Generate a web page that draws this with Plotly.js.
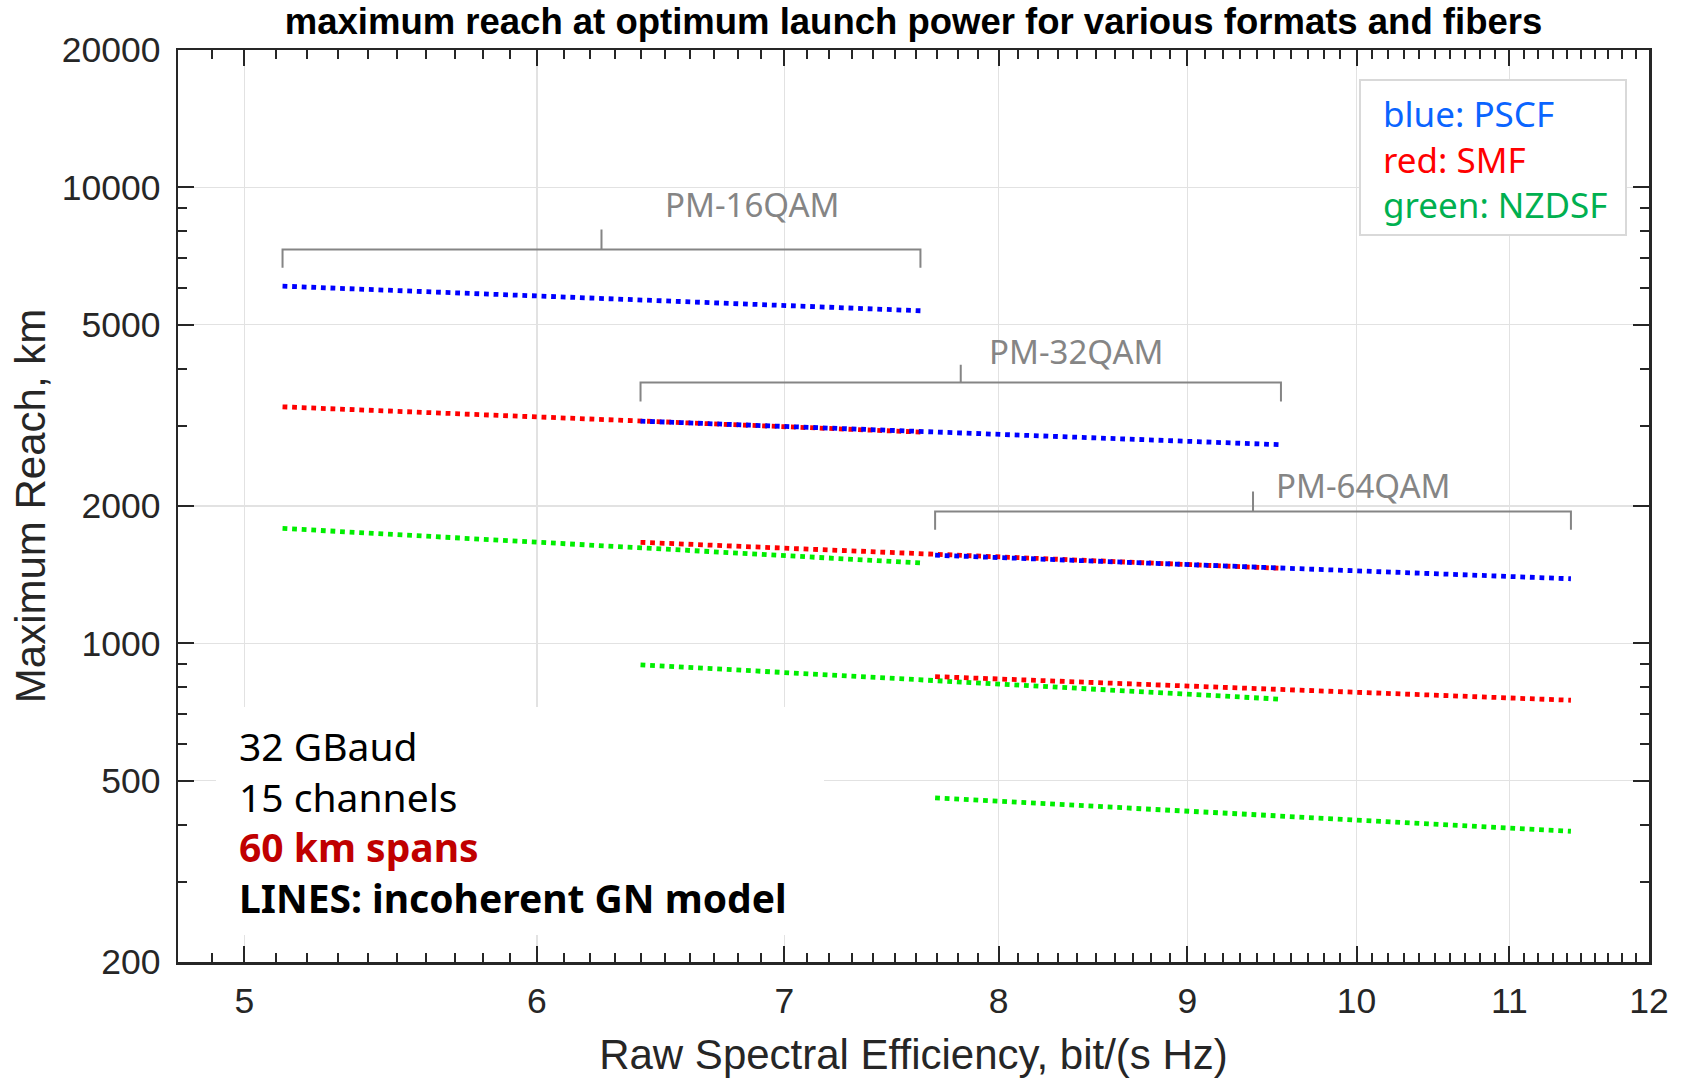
<!DOCTYPE html>
<html>
<head>
<meta charset="utf-8">
<script src="https://cdn.plot.ly/plotly-3.0.1.min.js"></script>
<style>
  html, body { margin: 0; padding: 0; background: #ffffff; }
  #chart { width: 1682px; height: 1078px; }
</style>
</head>
<body>
<div id="chart"></div>
<script>
// ---------------- data ----------------
const formats = ['PM-16QAM', 'PM-32QAM', 'PM-64QAM'];
const fibers = ['PSCF', 'SMF', 'NZDSF'];

// raw spectral efficiency (bit/(s Hz)) : start / end of each format's sweep
const se16 = [5.12, 7.62];
const se32 = [6.40, 9.54];
const se64 = [7.69, 11.43];

// maximum reach (km)
const pscf16 = [6070, 5360];
const smf16 = [3300, 2905];
const nzdsf16 = [1786, 1500];

const pscf32 = [3070, 2725];
const smf32 = [1665, 1460];
const nzdsf32 = [897, 754];

const pscf64 = [1560, 1385];
const smf64 = [845, 750];
const nzdsf64 = [458, 387];

// brace levels (km) for each format group
const braceTop = [7300, 3730, 1944];
const braceHook = [6660, 3390, 1775];
const bracePeak = [8080, 4083, 2151];

// tick labels
const xTickVals = [5, 6, 7, 8, 9, 10, 11, 12];
const xTickText = ['5', '6', '7', '8', '9', '10', '11', '12'];
const yTickVals = [200, 500, 1000, 2000, 5000, 10000, 20000];
const yTickText = ['200', '500', '1000', '2000', '5000', '10000', '20000'];

// ---------------- styles ----------------
const fiberColors = { PSCF: '#0000ff', SMF: '#ff0000', NZDSF: '#00ee00' };
const axisColor = '#262626';
const gridColor = '#e2e2e2';
const braceColor = '#858585';

const seByFormat = [se16, se32, se64];
const reachByFormat = [
  { PSCF: pscf16, SMF: smf16, NZDSF: nzdsf16 },
  { PSCF: pscf32, SMF: smf32, NZDSF: nzdsf32 },
  { PSCF: pscf64, SMF: smf64, NZDSF: nzdsf64 }
];

const traces = [];

// braces
formats.forEach((f, i) => {
  const s = seByFormat[i][0], e = seByFormat[i][1];
  const m = Math.sqrt(s * e);
  traces.push({
    type: 'scatter', mode: 'lines', name: f + ' brace',
    x: [s, s, m, m, m, e, e],
    y: [braceHook[i], braceTop[i], braceTop[i], bracePeak[i], braceTop[i], braceTop[i], braceHook[i]],
    line: { color: braceColor, width: 2 },
    hoverinfo: 'skip', showlegend: false
  });
});

// reach lines
formats.forEach((f, i) => {
  fibers.forEach(fb => {
    traces.push({
      type: 'scatter', mode: 'lines', name: f + ' ' + fb,
      x: seByFormat[i],
      y: reachByFormat[i][fb],
      line: { color: fiberColors[fb], width: 4.8, dash: 'dot' },
      showlegend: false
    });
  });
});

// minor tick positions
const xMinor = [];
for (let k = 48; k <= 120; k++) { if (k % 10 !== 0) xMinor.push(k / 10); }
const yMinor = [];
[100, 1000, 10000].forEach(dec => {
  for (let k = 2; k <= 9; k++) {
    const v = k * dec;
    if (v >= 200 && v <= 20000 && yTickVals.indexOf(v) < 0) yMinor.push(v);
  }
});

const W = 1682, H = 1078;
const L = 178, R = 33, T = 50, B = 116;
const pw = W - L - R, ph = H - T - B;
const px = v => (v - L) / pw;
const py = v => 1 - (v - T) / ph;

const tickFont = { family: 'Liberation Sans, Arial, sans-serif', size: 35.5, color: axisColor };
const annFont = 'Noto Sans, Open Sans, sans-serif';

const layout = {
  width: W, height: H,
  margin: { l: L, r: R, t: T, b: B },
  paper_bgcolor: '#ffffff',
  plot_bgcolor: '#ffffff',
  showlegend: false,
  title: {
    text: '<b>maximum reach at optimum launch power for various formats and fibers</b>',
    font: { family: 'Liberation Sans, Arial, sans-serif', size: 36.5, color: '#000000' },
    x: 0.5, xref: 'paper', xanchor: 'center',
    y: 1 - 21 / H, yref: 'container', yanchor: 'middle'
  },
  xaxis: {
    type: 'log',
    range: [Math.log10(4.797), Math.log10(12)],
    tickmode: 'array', tickvals: xTickVals, ticktext: xTickText,
    ticks: 'inside', ticklen: 16, tickwidth: 2, tickcolor: axisColor,
    showline: true, linecolor: axisColor, linewidth: 2.5, mirror: 'allticks',
    showgrid: true, gridcolor: gridColor, gridwidth: 1.5,
    zeroline: false,
    tickfont: tickFont,
    ticklabelstandoff: 6,
    minor: { tickmode: 'array', tickvals: xMinor, ticks: 'inside', ticklen: 9, tickwidth: 2, tickcolor: axisColor, showgrid: false },
    title: { text: 'Raw Spectral Efficiency, bit/(s Hz)', font: { family: 'Liberation Sans, Arial, sans-serif', size: 42, color: axisColor }, standoff: 22 }
  },
  yaxis: {
    type: 'log',
    range: [Math.log10(200), Math.log10(20000)],
    tickmode: 'array', tickvals: yTickVals, ticktext: yTickText,
    ticks: 'inside', ticklen: 16, tickwidth: 2, tickcolor: axisColor,
    showline: true, linecolor: axisColor, linewidth: 2.5, mirror: 'allticks',
    showgrid: true, gridcolor: gridColor, gridwidth: 1.5,
    zeroline: false,
    tickfont: tickFont,
    ticklabelstandoff: 8,
    minor: { tickmode: 'array', tickvals: yMinor, ticks: 'inside', ticklen: 9, tickwidth: 2, tickcolor: axisColor, showgrid: false },
    title: { text: 'Maximum Reach, km', font: { family: 'Liberation Sans, Arial, sans-serif', size: 42, color: axisColor }, standoff: 3 }
  },
  shapes: [
    {
      type: 'rect', xref: 'paper', yref: 'paper', layer: 'above',
      x0: px(216), x1: px(824), y0: py(935), y1: py(707),
      fillcolor: '#ffffff', line: { width: 0 }
    },
    {
      type: 'rect', xref: 'paper', yref: 'paper', layer: 'above',
      x0: px(1360), x1: px(1626), y0: py(235), y1: py(80),
      fillcolor: '#ffffff', line: { color: '#d9d9d9', width: 2 }
    }
  ],
  annotations: [
    {
      xref: 'paper', yref: 'paper', x: px(1381), y: py(159), xanchor: 'left', yanchor: 'middle',
      align: 'left', showarrow: false,
      text: '<span style="color:#0a64ff">blue: PSCF</span><br><span style="color:#ff0000">red: SMF</span><br><span style="color:#00b050">green: NZDSF</span>',
      font: { family: annFont, size: 35 }
    },
    {
      xref: 'paper', yref: 'paper', x: px(237), y: py(821), xanchor: 'left', yanchor: 'middle',
      align: 'left', showarrow: false,
      text: '32 GBaud<br>15 channels<br><b><span style="color:#c00000">60 km spans</span></b><br><b>LINES: incoherent GN model</b>',
      font: { family: annFont, size: 39, color: '#000000' }
    },
    {
      xref: 'paper', yref: 'paper', x: px(752), y: py(205), xanchor: 'center', yanchor: 'middle',
      showarrow: false, text: formats[0], font: { family: annFont, size: 33, color: braceColor }
    },
    {
      xref: 'paper', yref: 'paper', x: px(1076), y: py(351), xanchor: 'center', yanchor: 'middle',
      showarrow: false, text: formats[1], font: { family: annFont, size: 33, color: braceColor }
    },
    {
      xref: 'paper', yref: 'paper', x: px(1363), y: py(485), xanchor: 'center', yanchor: 'middle',
      showarrow: false, text: formats[2], font: { family: annFont, size: 33, color: braceColor }
    }
  ]
};

Plotly.newPlot('chart', traces, layout, { displayModeBar: false, staticPlot: true });
</script>
</body>
</html>
